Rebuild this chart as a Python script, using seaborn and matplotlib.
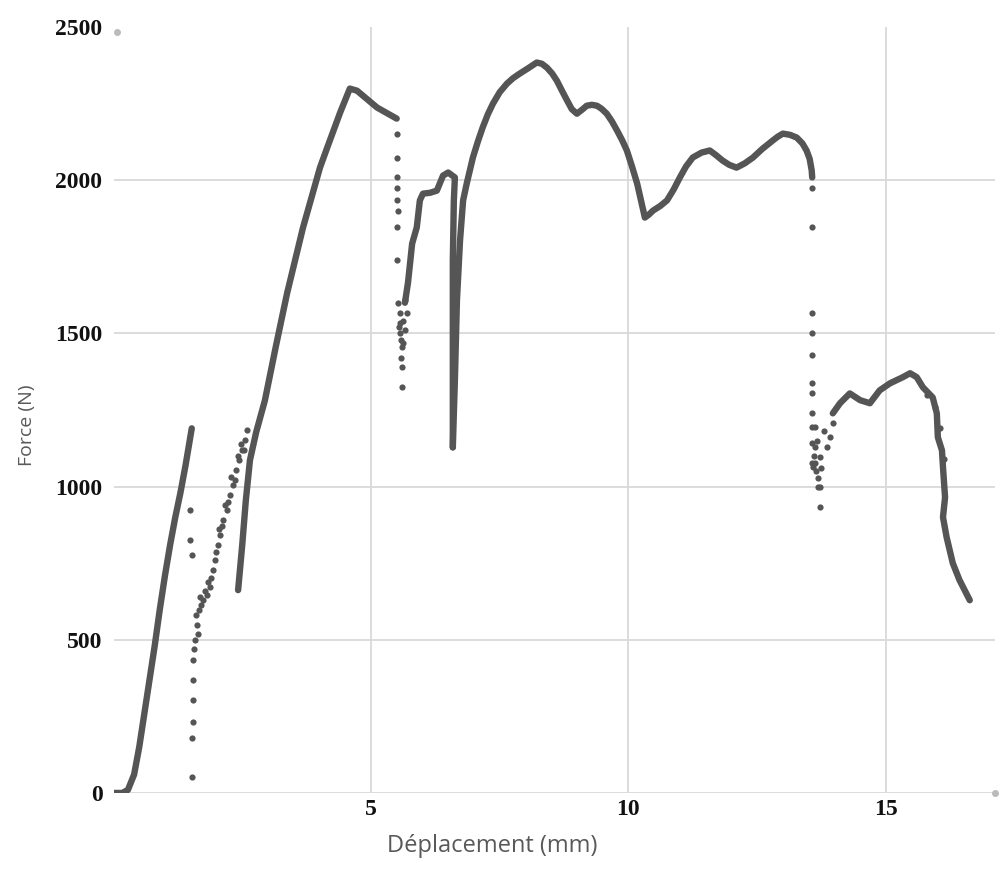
import matplotlib
matplotlib.use("Agg")
import matplotlib.pyplot as plt
import seaborn as sns

# === DATA ===
# dense parts of the record, drawn as thick lines
loading_x = [0.0, 0.17, 0.28, 0.40, 0.50, 0.60, 0.70, 0.80, 0.90, 1.00, 1.10, 1.20, 1.30, 1.40, 1.50, 1.52]
loading_y = [0, 0, 10, 60, 150, 260, 370, 480, 600, 710, 810, 900, 980, 1070, 1170, 1190]

reload_x = [2.42, 2.50, 2.57, 2.65, 2.77, 2.94, 3.15, 3.37, 3.68, 4.01, 4.15, 4.40, 4.59, 4.73, 5.12, 5.50]
reload_y = [662, 809, 955, 1086, 1177, 1281, 1455, 1630, 1845, 2041, 2106, 2220, 2299, 2292, 2237, 2201]

step_x = [5.66, 5.72, 5.80, 5.89, 5.95, 6.01, 6.15, 6.28, 6.40, 6.50, 6.63, 6.61, 6.59, 6.59, 6.59, 6.59]
step_y = [1600, 1666, 1793, 1846, 1934, 1956, 1959, 1966, 2015, 2025, 2009, 1934, 1738, 1510, 1282, 1128]

hump_x = [6.59, 6.63, 6.67, 6.73, 6.79, 6.86, 6.98, 7.08, 7.17, 7.27, 7.37, 7.50, 7.64, 7.76, 7.89,
          8.05, 8.22, 8.32, 8.42, 8.52, 8.61, 8.71, 8.81, 8.90, 9.00, 9.10, 9.19, 9.29, 9.39,
          9.48, 9.58, 9.68, 9.78, 9.88, 9.97, 10.07, 10.17, 10.25, 10.32, 10.40, 10.48, 10.62,
          10.75, 10.88, 11.00, 11.12, 11.25, 11.42, 11.58, 11.70, 11.83, 11.96, 12.10, 12.26,
          12.42, 12.60, 12.80, 12.90, 13.00, 13.14, 13.27, 13.38, 13.46, 13.52, 13.56, 13.57]
hump_y = [1128, 1347, 1608, 1803, 1934, 1989, 2074, 2128, 2172, 2215, 2250, 2287, 2315, 2333, 2348,
          2365, 2384, 2380, 2367, 2348, 2325, 2292, 2260, 2232, 2217, 2230, 2243, 2246, 2243,
          2233, 2217, 2192, 2162, 2130, 2097, 2045, 1989, 1930, 1878, 1888, 1901, 1916,
          1934, 1970, 2009, 2045, 2074, 2090, 2097, 2082, 2064, 2050, 2041, 2055,
          2074, 2102, 2129, 2142, 2152, 2148, 2139, 2120, 2097, 2070, 2032, 2009]

tail_x = [13.97, 14.11, 14.30, 14.50, 14.69, 14.88, 15.08, 15.33, 15.47, 15.60, 15.72, 15.91,
          15.99, 16.01, 16.09, 16.11, 16.15, 16.11, 16.18, 16.30, 16.43, 16.63]
tail_y = [1239, 1272, 1304, 1282, 1272, 1314, 1337, 1357, 1370, 1357, 1324, 1291,
          1239, 1161, 1118, 1063, 965, 900, 835, 750, 695, 629]

# sparse points (drops and noisy zones)
sparse_x = [1.52, 1.52, 1.54, 1.54, 1.54, 1.54, 1.58, 1.62, 1.66, 1.74, 1.82, 1.87, 1.93, 1.97,
            2.03, 2.07, 2.13, 2.20, 2.26, 2.32, 2.38, 2.44, 2.50, 2.55, 2.59, 1.49, 1.49, 1.52,
            1.60, 1.64, 1.70, 1.78, 1.84, 1.90, 1.99, 2.05, 2.10, 2.16, 2.23, 2.29, 2.35, 2.41,
            2.47, 2.53, 1.56, 1.68,
            5.50, 5.50, 5.50, 5.50, 5.50, 5.52, 5.50, 5.50, 5.52, 5.56, 5.56, 5.56, 5.60, 5.60,
            5.60, 5.66, 5.70, 5.66, 5.62, 5.58, 5.54, 5.62, 5.58,
            13.56, 13.56, 13.56, 13.56, 13.56, 13.56, 13.56, 13.56, 13.56, 13.56, 13.56, 13.68,
            13.72, 13.72, 13.62, 13.62, 13.62, 13.68, 13.60, 13.66, 13.64, 13.75, 13.80,
            13.58, 13.72, 13.85, 13.91, 13.97, 15.80, 15.95, 16.05, 16.12]
sparse_y = [52, 179, 232, 303, 368, 434, 499, 548, 597, 629, 646, 672, 727, 760,
            809, 841, 890, 923, 972, 1004, 1053, 1086, 1118, 1151, 1184, 923, 825, 776,
            580, 520, 615, 660, 690, 700, 785, 860, 870, 940, 950, 1030, 1020, 1100,
            1140, 1120, 470, 640,
            2152, 2074, 2009, 1976, 1934, 1901, 1846, 1738, 1598, 1565, 1533, 1500, 1454, 1389,
            1324, 1608, 1565, 1510, 1542, 1480, 1520, 1470, 1420,
            1973, 1846, 1565, 1500, 1428, 1337, 1304, 1239, 1193, 1141, 1076, 1027,
            998, 933, 1193, 1128, 1076, 998, 1100, 1150, 1050, 1060, 1180,
            1063, 1096, 1128, 1161, 1206, 1300, 1260, 1190, 1090]

x_ticks = [5, 10, 15]
y_ticks = [0, 500, 1000, 1500, 2000, 2500]

# === STYLE ===
sns.set_theme(style="whitegrid")
DOT = "#555555"
GRID = "#d9d9d9"

fig = plt.figure(figsize=(10, 8.71), dpi=100)
ax = fig.add_axes([0.1135, 0.0896, 0.8815, 0.8794])

for xs, ys in [(loading_x, loading_y), (reload_x, reload_y), (step_x, step_y),
               (hump_x, hump_y), (tail_x, tail_y)]:
    sns.lineplot(x=xs, y=ys, sort=False, estimator=None, color=DOT, lw=4.6,
                 solid_capstyle="round", solid_joinstyle="round", ax=ax)
sns.scatterplot(x=sparse_x, y=sparse_y, color=DOT, s=20, linewidth=0, ax=ax)

ax.set_xlim(0, 17.12)
ax.set_ylim(0, 2500)
ax.set_xticks(x_ticks)
ax.set_yticks(y_ticks)

tick_font = dict(family="Liberation Serif", weight="bold", size=17, color="#111111")
ax.set_xticklabels([str(t) for t in x_ticks], **tick_font)
ax.set_yticklabels([str(t) for t in y_ticks], **tick_font)
ax.tick_params(axis="x", pad=4, length=0)
ax.tick_params(axis="y", pad=8, length=0)

ax.set_facecolor("white")
ax.grid(True, color=GRID, lw=1.3)
ax.yaxis.get_gridlines()[-1].set_visible(False)
for s in ax.spines.values():
    s.set_visible(False)

ax.set_xlabel("Déplacement (mm)", family="Open Sans", size=17, color="#595959")
ax.xaxis.set_label_coords(0.43, -0.053)
ax.set_ylabel("Force (N)", family="Open Sans", size=14, color="#595959")
ax.yaxis.set_label_coords(-0.088, 0.48)

# small end dots of the axes
ax.plot([0.004], [0.993], transform=ax.transAxes, marker="o", ms=4, color="#bbbbbb", clip_on=False)
ax.plot([1.0], [0.0], transform=ax.transAxes, marker="o", ms=4, color="#bbbbbb", clip_on=False)

fig.savefig("out.png", dpi=100)
